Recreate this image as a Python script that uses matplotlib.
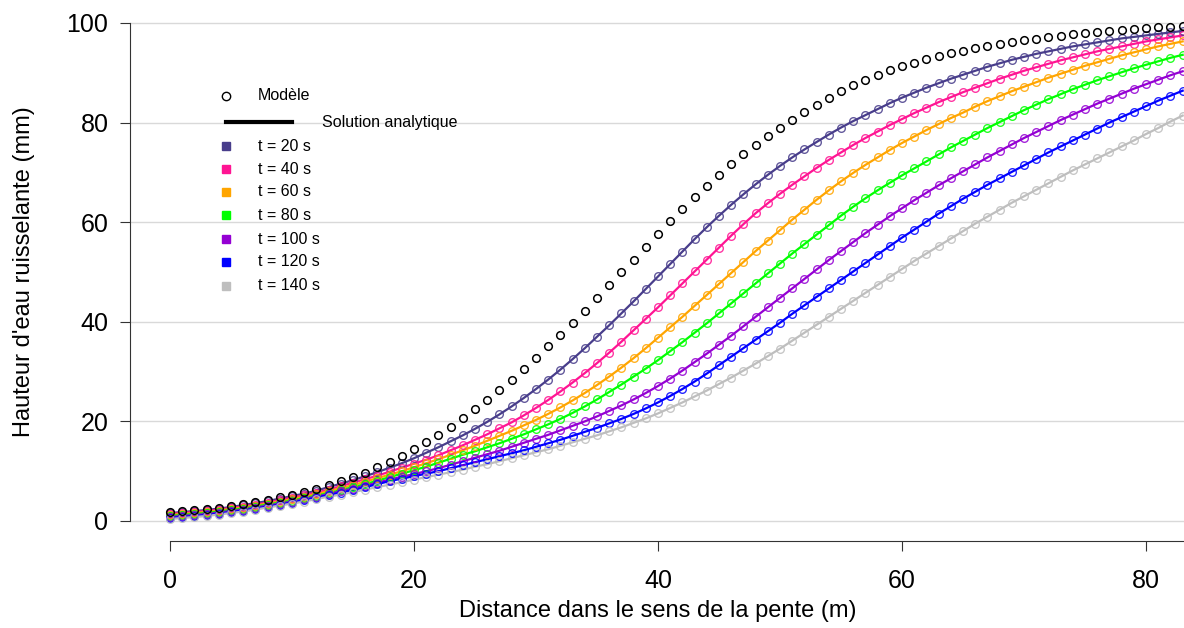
import matplotlib.pyplot as plt
from matplotlib.lines import Line2D
import numpy as np

plt.rcParams['font.family'] = ['Liberation Sans', 'DejaVu Sans']

# distance dans la pente (m), un point par metre
distance = np.arange(0, 84)

# courbe noire (modele seul, sans solution analytique)
h_noir = [1.8, 2.0, 2.2, 2.4, 2.7, 3.0, 3.4, 3.8, 4.3, 4.8,
          5.3, 5.9, 6.5, 7.2, 8.0, 8.8, 9.7, 10.8, 11.9, 13.1,
          14.4, 15.8, 17.3, 18.9, 20.6, 22.4, 24.3, 26.3, 28.4, 30.6,
          32.8, 35.1, 37.4, 39.8, 42.2, 44.7, 47.3, 49.9, 52.5, 55.1,
          57.7, 60.2, 62.6, 65.0, 67.3, 69.5, 71.6, 73.6, 75.5, 77.3,
          79.0, 80.6, 82.1, 83.6, 85.0, 86.3, 87.5, 88.6, 89.6, 90.5,
          91.3, 92.0, 92.7, 93.3, 93.9, 94.4, 94.9, 95.3, 95.7, 96.1,
          96.5, 96.8, 97.1, 97.4, 97.7, 97.9, 98.1, 98.3, 98.5, 98.7,
          98.9, 99.1, 99.2, 99.4]

h_t20 = [1.6, 1.8, 2.0, 2.2, 2.5, 2.8, 3.2, 3.6, 4.0, 4.5,
         5.0, 5.5, 6.1, 6.8, 7.5, 8.2, 9.0, 9.8, 10.7, 11.6,
         12.6, 13.7, 14.8, 16.0, 17.2, 18.5, 19.9, 21.4, 23.0, 24.7,
         26.5, 28.4, 30.4, 32.5, 34.7, 37.0, 39.3, 41.7, 44.1, 46.6,
         49.1, 51.6, 54.1, 56.6, 59.0, 61.3, 63.5, 65.6, 67.6, 69.5,
         71.3, 73.0, 74.6, 76.1, 77.6, 79.0, 80.3, 81.5, 82.7, 83.9,
         85.0, 86.0, 87.0, 87.9, 88.8, 89.6, 90.4, 91.2, 91.9, 92.6,
         93.2, 93.8, 94.3, 94.8, 95.3, 95.7, 96.1, 96.5, 96.9, 97.2,
         97.5, 97.8, 98.1, 98.4]

h_t40 = [1.4, 1.6, 1.8, 2.0, 2.3, 2.6, 2.9, 3.3, 3.7, 4.2,
         4.7, 5.2, 5.7, 6.3, 7.0, 7.7, 8.4, 9.1, 9.9, 10.7,
         11.5, 12.3, 13.2, 14.2, 15.2, 16.3, 17.4, 18.6, 19.8, 21.2,
         22.7, 24.3, 26.0, 27.8, 29.7, 31.7, 33.8, 36.0, 38.3, 40.6,
         42.9, 45.3, 47.7, 50.1, 52.5, 54.9, 57.3, 59.6, 61.8, 63.8,
         65.7, 67.5, 69.2, 70.9, 72.5, 74.0, 75.5, 76.9, 78.2, 79.5,
         80.7, 81.9, 83.0, 84.1, 85.1, 86.1, 87.0, 87.9, 88.8, 89.6,
         90.4, 91.1, 91.8, 92.5, 93.1, 93.7, 94.3, 94.8, 95.3, 95.8,
         96.3, 96.7, 97.1, 97.5]

h_t60 = [1.2, 1.4, 1.6, 1.8, 2.1, 2.4, 2.7, 3.1, 3.5, 3.9,
         4.4, 4.9, 5.4, 6.0, 6.6, 7.2, 7.9, 8.6, 9.3, 10.0,
         10.8, 11.6, 12.4, 13.3, 14.2, 15.1, 16.1, 17.1, 18.1, 19.2,
         20.3, 21.5, 22.8, 24.2, 25.7, 27.3, 29.0, 30.8, 32.7, 34.7,
         36.8, 38.9, 41.0, 43.2, 45.4, 47.6, 49.8, 52.0, 54.2, 56.3,
         58.4, 60.5, 62.5, 64.5, 66.4, 68.2, 69.9, 71.5, 73.0, 74.5,
         75.9, 77.2, 78.5, 79.7, 80.9, 82.0, 83.2, 84.3, 85.3, 86.3,
         87.2, 88.1, 89.0, 89.8, 90.6, 91.4, 92.1, 92.8, 93.5, 94.1,
         94.7, 95.3, 95.8, 96.3]

h_t80 = [1.0, 1.2, 1.4, 1.6, 1.9, 2.2, 2.5, 2.9, 3.3, 3.7,
         4.1, 4.6, 5.1, 5.6, 6.2, 6.8, 7.4, 8.1, 8.8, 9.5,
         10.2, 10.9, 11.7, 12.5, 13.3, 14.0, 14.8, 15.6, 16.5, 17.4,
         18.4, 19.4, 20.5, 21.7, 23.0, 24.4, 25.9, 27.4, 29.0, 30.6,
         32.3, 34.1, 35.9, 37.8, 39.7, 41.7, 43.7, 45.7, 47.7, 49.7,
         51.7, 53.7, 55.6, 57.5, 59.4, 61.3, 63.1, 64.8, 66.4, 67.9,
         69.4, 70.8, 72.2, 73.6, 75.0, 76.3, 77.6, 78.9, 80.1, 81.3,
         82.5, 83.6, 84.7, 85.7, 86.7, 87.6, 88.5, 89.3, 90.1, 90.9,
         91.6, 92.3, 93.0, 93.6]

h_t100 = [0.8, 1.0, 1.2, 1.4, 1.7, 2.0, 2.3, 2.7, 3.1, 3.5,
          3.9, 4.4, 4.9, 5.4, 6.0, 6.5, 7.1, 7.7, 8.3, 8.9,
          9.4, 10.0, 10.6, 11.3, 12.0, 12.7, 13.4, 14.1, 14.9, 15.7,
          16.5, 17.3, 18.2, 19.1, 20.0, 21.0, 22.1, 23.2, 24.4, 25.7,
          27.1, 28.6, 30.2, 31.9, 33.6, 35.4, 37.2, 39.1, 41.0, 42.9,
          44.8, 46.7, 48.6, 50.5, 52.4, 54.2, 56.0, 57.8, 59.5, 61.2,
          62.8, 64.4, 65.9, 67.4, 68.8, 70.2, 71.6, 73.0, 74.3, 75.6,
          76.9, 78.1, 79.3, 80.5, 81.6, 82.7, 83.8, 84.8, 85.8, 86.8,
          87.7, 88.6, 89.5, 90.3]

h_t120 = [0.6, 0.8, 1.0, 1.2, 1.5, 1.8, 2.1, 2.5, 2.9, 3.3,
          3.7, 4.2, 4.7, 5.2, 5.7, 6.2, 6.8, 7.4, 8.0, 8.5,
          9.0, 9.5, 10.0, 10.6, 11.2, 11.8, 12.4, 13.0, 13.6, 14.2,
          14.9, 15.6, 16.3, 17.1, 17.9, 18.7, 19.6, 20.5, 21.5, 22.6,
          23.8, 25.1, 26.5, 28.0, 29.6, 31.3, 33.0, 34.7, 36.4, 38.1,
          39.8, 41.6, 43.3, 45.0, 46.7, 48.4, 50.1, 51.8, 53.5, 55.2,
          56.9, 58.5, 60.1, 61.7, 63.2, 64.7, 66.1, 67.5, 68.8, 70.1,
          71.4, 72.7, 74.0, 75.2, 76.4, 77.6, 78.8, 80.0, 81.1, 82.2,
          83.3, 84.4, 85.4, 86.4]

h_t140 = [0.4, 0.6, 0.8, 1.0, 1.3, 1.6, 1.9, 2.3, 2.7, 3.1,
          3.5, 3.9, 4.4, 4.9, 5.3, 5.8, 6.3, 6.8, 7.3, 7.8,
          8.3, 8.8, 9.3, 9.8, 10.3, 10.9, 11.4, 12.0, 12.6, 13.2,
          13.8, 14.4, 15.1, 15.8, 16.5, 17.2, 18.0, 18.8, 19.7, 20.6,
          21.6, 22.7, 23.8, 25.0, 26.2, 27.5, 28.8, 30.2, 31.6, 33.1,
          34.6, 36.2, 37.8, 39.4, 41.0, 42.6, 44.2, 45.8, 47.4, 49.0,
          50.6, 52.2, 53.7, 55.2, 56.7, 58.2, 59.7, 61.1, 62.5, 63.9,
          65.2, 66.5, 67.8, 69.1, 70.4, 71.6, 72.8, 74.0, 75.2, 76.4,
          77.7, 78.9, 80.2, 81.4]

series = [h_t20, h_t40, h_t60, h_t80, h_t100, h_t120, h_t140]
labels = ['t = 20 s', 't = 40 s', 't = 60 s', 't = 80 s',
          't = 100 s', 't = 120 s', 't = 140 s']
colors = ['#483D8B', '#FF1493', '#FFA500', '#00FF00',
          '#9400D3', '#0000FF', '#BEBEBE']

W, H = 1184, 628
fig = plt.figure(figsize=(W / 100, H / 100), dpi=100)
ax = fig.add_axes([130 / W, 1 - 541 / H, 1054 / W, (541 - 15) / H])

for h, c in zip(series, colors):
    ax.plot(distance, h, '-', color=c, lw=1.6, zorder=3)
    ax.plot(distance, h, 'o', mfc='none', mec=c, mew=1, ms=5.5, alpha=0.85, zorder=4)
ax.plot(distance, h_noir, 'o', mfc='none', mec='black', mew=1.1, ms=5.5, zorder=5)

ax.set_xlim(-3.28, 83.11)
ax.set_ylim(-4.02, 101.6)
ax.set_xticks([0, 20, 40, 60, 80])
ax.set_yticks([0, 20, 40, 60, 80, 100])
ax.yaxis.grid(True, color='#D9D9D9', lw=1)
ax.set_axisbelow(True)

for s in ['top', 'right']:
    ax.spines[s].set_visible(False)
ax.spines['left'].set_bounds(0, 100)
ax.spines['bottom'].set_bounds(0, 83.11)
for s in ['left', 'bottom']:
    ax.spines[s].set_color('#333333')
ax.tick_params(axis='x', length=7, pad=13, labelsize=18, color='#333333')
ax.tick_params(axis='y', length=7, pad=8.5, labelsize=18, color='#333333')

ax.set_xlabel('Distance dans le sens de la pente (m)', fontsize=17, va='center')
ax.set_ylabel("Hauteur d'eau ruisselante (mm)", fontsize=17, va='center')
ax.xaxis.set_label_coords((658 - 130) / 1054, -(611 - 541) / 526)
ax.yaxis.set_label_coords(-(130 - 24) / 1054, (541 - 272) / 526)

# legende dessinee a la main (positions en pixels)
def fx(px):
    return px / W

def fy(py):
    return 1 - py / H

fig.add_artist(Line2D([fx(226)], [fy(96)], marker='o', mfc='none', mec='black',
                      ms=6, mew=1, transform=fig.transFigure))
fig.text(fx(258), fy(96), 'Modèle', fontsize=11.5, va='center')
fig.add_artist(Line2D([fx(226), fx(292)], [fy(122), fy(122)], color='black',
                      lw=3, transform=fig.transFigure))
fig.text(fx(322), fy(122), 'Solution analytique', fontsize=11.5, va='center')
ys = [146, 169, 192, 215, 239, 262, 286]
for lab, c, yy in zip(labels, colors, ys):
    fig.add_artist(Line2D([fx(226)], [fy(yy)], marker='s', color=c, ms=6,
                          lw=0, transform=fig.transFigure))
    fig.text(fx(258), fy(yy), lab, fontsize=11.5, va='center')

fig.savefig('out.png', dpi=100)
